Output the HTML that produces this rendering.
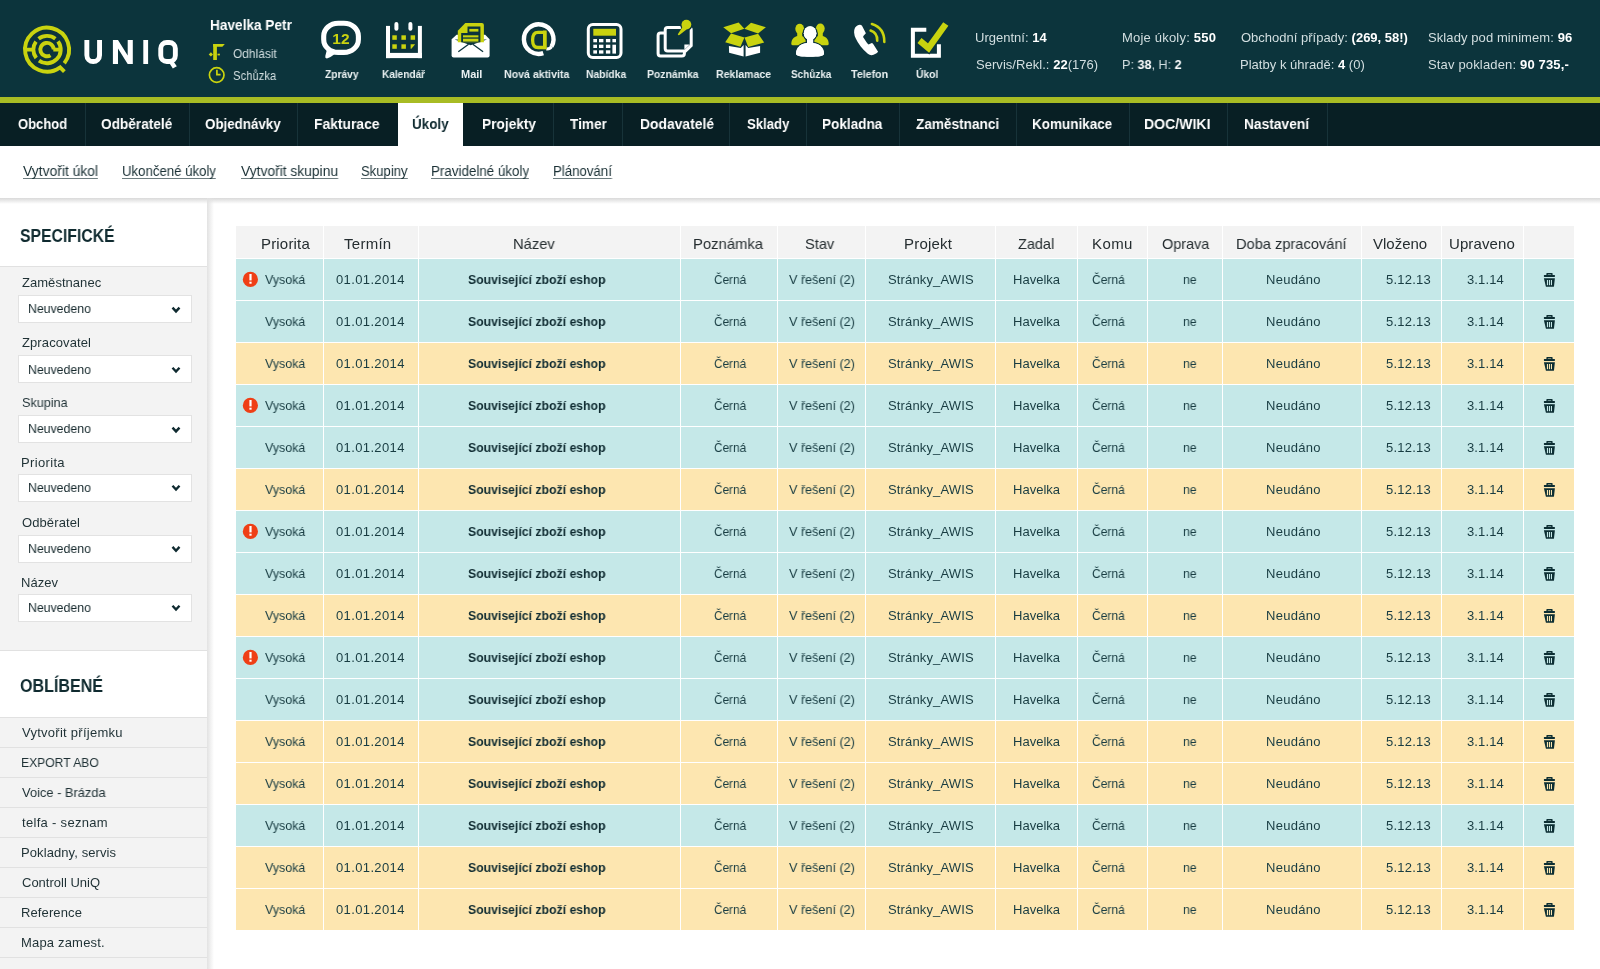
<!DOCTYPE html>
<html><head><meta charset="utf-8"><style>
*{box-sizing:border-box}
html,body{margin:0;padding:0}
body{width:1600px;height:969px;overflow:hidden;position:relative;background:#fff;font-family:"Liberation Sans",sans-serif}
.a{position:absolute}
.t{position:absolute;white-space:nowrap;line-height:1;will-change:transform}
#hdr{left:0;top:0;width:1600px;height:97px;background:#0c343c}
#lime{left:0;top:97px;width:1600px;height:6px;background:#a8bc24}
#nav{left:0;top:103px;width:1600px;height:43px;background:#081f24}
.sep{position:absolute;top:103px;width:1px;height:43px;background:#173339}
#act{left:398px;top:103px;width:65px;height:43px;background:#fff}
#sub{left:0;top:146px;width:1600px;height:52px;background:#fff}
#shadow{left:0;top:198px;width:1600px;height:6px;background:linear-gradient(#d9d9d9,rgba(255,255,255,0))}
#side{left:0;top:198px;width:207px;height:771px;background:#fff}
#sideshadow{left:207px;top:198px;width:7px;height:771px;background:linear-gradient(90deg,#e2e2e2,rgba(255,255,255,0))}
.gray{position:absolute;left:0;width:207px;background:#f3f3f3}
.hl{position:absolute;left:0;width:207px;height:1px;background:#e1e1e1}
.sel{position:absolute;left:18px;width:174px;height:28px;background:#fff;border:1px solid #e2e2e2}
.nt{color:#fff;font-weight:bold;font-size:15px}
.sn{color:#1a3035;font-size:14px;text-decoration:underline;text-decoration-color:#6d7c7f;text-underline-offset:2px;text-decoration-skip-ink:none}
.lab{color:#1f3135;font-size:13px}
.neu{color:#15282c;font-size:13px}
.fav{color:#1f3135;font-size:13px}
.tl{color:#eaf1f2;font-weight:bold;font-size:11px}
.st{color:#d3dfe1;font-size:13px}
.st b{color:#fff}
#tbl{left:236px;top:226px;width:1338px;height:704px}
.row{position:absolute;left:0;width:1338px;height:41px}
.cy{background:#c5e8e8}
.ye{background:#fde6b0}
.hd{position:absolute;left:0;top:0;width:1338px;height:32px;background:#f3f3f3}
.vl{position:absolute;top:0;width:1px;height:704px;background:#fff}
.th{color:#252d30;font-size:15px}
.td{color:#183c42;font-size:13px}
.tb{color:#0f2b31;font-size:13px;font-weight:bold}
</style></head><body>
<div id="hdr" class="a"></div>
<div id="lime" class="a"></div>
<div id="nav" class="a"></div>
<div id="act" class="a"></div>
<div id="sub" class="a"></div>
<div id="side" class="a"></div>
<div id="shadow" class="a"></div>
<div id="sideshadow" class="a"></div>
<div class="sep" style="left:85px"></div>
<div class="sep" style="left:189px"></div>
<div class="sep" style="left:297px"></div>
<div class="sep" style="left:553px"></div>
<div class="sep" style="left:622px"></div>
<div class="sep" style="left:729px"></div>
<div class="sep" style="left:806px"></div>
<div class="sep" style="left:899px"></div>
<div class="sep" style="left:1016px"></div>
<div class="sep" style="left:1129px"></div>
<div class="sep" style="left:1227px"></div>
<div class="sep" style="left:1327px"></div>

<div class="gray" style="top:266px;height:384px"></div>
<div class="hl" style="top:266px"></div>
<div class="hl" style="top:650px"></div>
<div class="gray" style="top:717px;height:252px"></div>
<div class="hl" style="top:717px"></div>
<div class="hl" style="top:747px"></div>
<div class="hl" style="top:777px"></div>
<div class="hl" style="top:807px"></div>
<div class="hl" style="top:837px"></div>
<div class="hl" style="top:867px"></div>
<div class="hl" style="top:897px"></div>
<div class="hl" style="top:927px"></div>
<div class="hl" style="top:957px"></div>
<div class="sel" style="top:295.3px"></div>
<div class="sel" style="top:355.4px"></div>
<div class="sel" style="top:415.3px"></div>
<div class="sel" style="top:473.5px"></div>
<div class="sel" style="top:534.6px"></div>
<div class="sel" style="top:593.5px"></div>
<svg class="a" style="left:0;top:0" width="207" height="969" viewBox="0 0 207 969"><path d="M172.5 307.6 L176 311.4 L179.5 307.6" fill="none" stroke="#0f2a30" stroke-width="2.4"></path>
<path d="M172.5 367.7 L176 371.5 L179.5 367.7" fill="none" stroke="#0f2a30" stroke-width="2.4"></path>
<path d="M172.5 427.6 L176 431.4 L179.5 427.6" fill="none" stroke="#0f2a30" stroke-width="2.4"></path>
<path d="M172.5 485.8 L176 489.6 L179.5 485.8" fill="none" stroke="#0f2a30" stroke-width="2.4"></path>
<path d="M172.5 546.9 L176 550.7 L179.5 546.9" fill="none" stroke="#0f2a30" stroke-width="2.4"></path>
<path d="M172.5 605.8 L176 609.6 L179.5 605.8" fill="none" stroke="#0f2a30" stroke-width="2.4"></path>
</svg>

<div id="tbl" class="a">
<div class="hd"></div>
<div class="row cy" style="top:33px"></div>
<div class="row cy" style="top:75px"></div>
<div class="row ye" style="top:117px"></div>
<div class="row cy" style="top:159px"></div>
<div class="row cy" style="top:201px"></div>
<div class="row ye" style="top:243px"></div>
<div class="row cy" style="top:285px"></div>
<div class="row cy" style="top:327px"></div>
<div class="row ye" style="top:369px"></div>
<div class="row cy" style="top:411px"></div>
<div class="row cy" style="top:453px"></div>
<div class="row ye" style="top:495px"></div>
<div class="row ye" style="top:537px"></div>
<div class="row cy" style="top:579px"></div>
<div class="row ye" style="top:621px"></div>
<div class="row ye" style="top:663px"></div>
<div class="vl" style="left:87px"></div>
<div class="vl" style="left:182px"></div>
<div class="vl" style="left:444px"></div>
<div class="vl" style="left:541px"></div>
<div class="vl" style="left:629px"></div>
<div class="vl" style="left:759px"></div>
<div class="vl" style="left:841px"></div>
<div class="vl" style="left:911px"></div>
<div class="vl" style="left:986px"></div>
<div class="vl" style="left:1125px"></div>
<div class="vl" style="left:1205px"></div>
<div class="vl" style="left:1287px"></div>
</div>
<svg class="a" style="left:0;top:0" width="1600" height="969" viewBox="0 0 1600 969"><circle cx="250.4" cy="279.4" r="7.6" fill="#ef3f16"></circle><rect x="249.4" y="274.0" width="2.2" height="6.4" fill="#fff"></rect><rect x="249.4" y="281.7" width="2.2" height="2" fill="#fff"></rect>
<g transform="translate(0,0)" fill="#0c2e33"><path d="M1546.4 276 V273.6 Q1546.4 273 1547 273 H1552 Q1552.6 273 1552.6 273.6 V276 H1551.2 V274.4 H1547.8 V276 Z"></path><rect x="1543.9" y="274.9" width="11" height="2" rx="0.4"></rect><path d="M1543.9 278.2 H1554.9 L1554 286.3 Q1553.9 286.8 1553.4 286.8 H1546.4 Q1545.9 286.8 1545.8 286.3 Z"></path><rect x="1546.9" y="280" width="1.1" height="5.2" fill="#c5e8e8"></rect><rect x="1548.9" y="280" width="1.1" height="5.2" fill="#c5e8e8"></rect><rect x="1550.9" y="280" width="1.1" height="5.2" fill="#c5e8e8"></rect></g>
<g transform="translate(0,42)" fill="#0c2e33"><path d="M1546.4 276 V273.6 Q1546.4 273 1547 273 H1552 Q1552.6 273 1552.6 273.6 V276 H1551.2 V274.4 H1547.8 V276 Z"></path><rect x="1543.9" y="274.9" width="11" height="2" rx="0.4"></rect><path d="M1543.9 278.2 H1554.9 L1554 286.3 Q1553.9 286.8 1553.4 286.8 H1546.4 Q1545.9 286.8 1545.8 286.3 Z"></path><rect x="1546.9" y="280" width="1.1" height="5.2" fill="#c5e8e8"></rect><rect x="1548.9" y="280" width="1.1" height="5.2" fill="#c5e8e8"></rect><rect x="1550.9" y="280" width="1.1" height="5.2" fill="#c5e8e8"></rect></g>
<g transform="translate(0,84)" fill="#0c2e33"><path d="M1546.4 276 V273.6 Q1546.4 273 1547 273 H1552 Q1552.6 273 1552.6 273.6 V276 H1551.2 V274.4 H1547.8 V276 Z"></path><rect x="1543.9" y="274.9" width="11" height="2" rx="0.4"></rect><path d="M1543.9 278.2 H1554.9 L1554 286.3 Q1553.9 286.8 1553.4 286.8 H1546.4 Q1545.9 286.8 1545.8 286.3 Z"></path><rect x="1546.9" y="280" width="1.1" height="5.2" fill="#fde6b0"></rect><rect x="1548.9" y="280" width="1.1" height="5.2" fill="#fde6b0"></rect><rect x="1550.9" y="280" width="1.1" height="5.2" fill="#fde6b0"></rect></g>
<circle cx="250.4" cy="405.4" r="7.6" fill="#ef3f16"></circle><rect x="249.4" y="400.0" width="2.2" height="6.4" fill="#fff"></rect><rect x="249.4" y="407.7" width="2.2" height="2" fill="#fff"></rect>
<g transform="translate(0,126)" fill="#0c2e33"><path d="M1546.4 276 V273.6 Q1546.4 273 1547 273 H1552 Q1552.6 273 1552.6 273.6 V276 H1551.2 V274.4 H1547.8 V276 Z"></path><rect x="1543.9" y="274.9" width="11" height="2" rx="0.4"></rect><path d="M1543.9 278.2 H1554.9 L1554 286.3 Q1553.9 286.8 1553.4 286.8 H1546.4 Q1545.9 286.8 1545.8 286.3 Z"></path><rect x="1546.9" y="280" width="1.1" height="5.2" fill="#c5e8e8"></rect><rect x="1548.9" y="280" width="1.1" height="5.2" fill="#c5e8e8"></rect><rect x="1550.9" y="280" width="1.1" height="5.2" fill="#c5e8e8"></rect></g>
<g transform="translate(0,168)" fill="#0c2e33"><path d="M1546.4 276 V273.6 Q1546.4 273 1547 273 H1552 Q1552.6 273 1552.6 273.6 V276 H1551.2 V274.4 H1547.8 V276 Z"></path><rect x="1543.9" y="274.9" width="11" height="2" rx="0.4"></rect><path d="M1543.9 278.2 H1554.9 L1554 286.3 Q1553.9 286.8 1553.4 286.8 H1546.4 Q1545.9 286.8 1545.8 286.3 Z"></path><rect x="1546.9" y="280" width="1.1" height="5.2" fill="#c5e8e8"></rect><rect x="1548.9" y="280" width="1.1" height="5.2" fill="#c5e8e8"></rect><rect x="1550.9" y="280" width="1.1" height="5.2" fill="#c5e8e8"></rect></g>
<g transform="translate(0,210)" fill="#0c2e33"><path d="M1546.4 276 V273.6 Q1546.4 273 1547 273 H1552 Q1552.6 273 1552.6 273.6 V276 H1551.2 V274.4 H1547.8 V276 Z"></path><rect x="1543.9" y="274.9" width="11" height="2" rx="0.4"></rect><path d="M1543.9 278.2 H1554.9 L1554 286.3 Q1553.9 286.8 1553.4 286.8 H1546.4 Q1545.9 286.8 1545.8 286.3 Z"></path><rect x="1546.9" y="280" width="1.1" height="5.2" fill="#fde6b0"></rect><rect x="1548.9" y="280" width="1.1" height="5.2" fill="#fde6b0"></rect><rect x="1550.9" y="280" width="1.1" height="5.2" fill="#fde6b0"></rect></g>
<circle cx="250.4" cy="531.4" r="7.6" fill="#ef3f16"></circle><rect x="249.4" y="526.0" width="2.2" height="6.4" fill="#fff"></rect><rect x="249.4" y="533.7" width="2.2" height="2" fill="#fff"></rect>
<g transform="translate(0,252)" fill="#0c2e33"><path d="M1546.4 276 V273.6 Q1546.4 273 1547 273 H1552 Q1552.6 273 1552.6 273.6 V276 H1551.2 V274.4 H1547.8 V276 Z"></path><rect x="1543.9" y="274.9" width="11" height="2" rx="0.4"></rect><path d="M1543.9 278.2 H1554.9 L1554 286.3 Q1553.9 286.8 1553.4 286.8 H1546.4 Q1545.9 286.8 1545.8 286.3 Z"></path><rect x="1546.9" y="280" width="1.1" height="5.2" fill="#c5e8e8"></rect><rect x="1548.9" y="280" width="1.1" height="5.2" fill="#c5e8e8"></rect><rect x="1550.9" y="280" width="1.1" height="5.2" fill="#c5e8e8"></rect></g>
<g transform="translate(0,294)" fill="#0c2e33"><path d="M1546.4 276 V273.6 Q1546.4 273 1547 273 H1552 Q1552.6 273 1552.6 273.6 V276 H1551.2 V274.4 H1547.8 V276 Z"></path><rect x="1543.9" y="274.9" width="11" height="2" rx="0.4"></rect><path d="M1543.9 278.2 H1554.9 L1554 286.3 Q1553.9 286.8 1553.4 286.8 H1546.4 Q1545.9 286.8 1545.8 286.3 Z"></path><rect x="1546.9" y="280" width="1.1" height="5.2" fill="#c5e8e8"></rect><rect x="1548.9" y="280" width="1.1" height="5.2" fill="#c5e8e8"></rect><rect x="1550.9" y="280" width="1.1" height="5.2" fill="#c5e8e8"></rect></g>
<g transform="translate(0,336)" fill="#0c2e33"><path d="M1546.4 276 V273.6 Q1546.4 273 1547 273 H1552 Q1552.6 273 1552.6 273.6 V276 H1551.2 V274.4 H1547.8 V276 Z"></path><rect x="1543.9" y="274.9" width="11" height="2" rx="0.4"></rect><path d="M1543.9 278.2 H1554.9 L1554 286.3 Q1553.9 286.8 1553.4 286.8 H1546.4 Q1545.9 286.8 1545.8 286.3 Z"></path><rect x="1546.9" y="280" width="1.1" height="5.2" fill="#fde6b0"></rect><rect x="1548.9" y="280" width="1.1" height="5.2" fill="#fde6b0"></rect><rect x="1550.9" y="280" width="1.1" height="5.2" fill="#fde6b0"></rect></g>
<circle cx="250.4" cy="657.4" r="7.6" fill="#ef3f16"></circle><rect x="249.4" y="652.0" width="2.2" height="6.4" fill="#fff"></rect><rect x="249.4" y="659.7" width="2.2" height="2" fill="#fff"></rect>
<g transform="translate(0,378)" fill="#0c2e33"><path d="M1546.4 276 V273.6 Q1546.4 273 1547 273 H1552 Q1552.6 273 1552.6 273.6 V276 H1551.2 V274.4 H1547.8 V276 Z"></path><rect x="1543.9" y="274.9" width="11" height="2" rx="0.4"></rect><path d="M1543.9 278.2 H1554.9 L1554 286.3 Q1553.9 286.8 1553.4 286.8 H1546.4 Q1545.9 286.8 1545.8 286.3 Z"></path><rect x="1546.9" y="280" width="1.1" height="5.2" fill="#c5e8e8"></rect><rect x="1548.9" y="280" width="1.1" height="5.2" fill="#c5e8e8"></rect><rect x="1550.9" y="280" width="1.1" height="5.2" fill="#c5e8e8"></rect></g>
<g transform="translate(0,420)" fill="#0c2e33"><path d="M1546.4 276 V273.6 Q1546.4 273 1547 273 H1552 Q1552.6 273 1552.6 273.6 V276 H1551.2 V274.4 H1547.8 V276 Z"></path><rect x="1543.9" y="274.9" width="11" height="2" rx="0.4"></rect><path d="M1543.9 278.2 H1554.9 L1554 286.3 Q1553.9 286.8 1553.4 286.8 H1546.4 Q1545.9 286.8 1545.8 286.3 Z"></path><rect x="1546.9" y="280" width="1.1" height="5.2" fill="#c5e8e8"></rect><rect x="1548.9" y="280" width="1.1" height="5.2" fill="#c5e8e8"></rect><rect x="1550.9" y="280" width="1.1" height="5.2" fill="#c5e8e8"></rect></g>
<g transform="translate(0,462)" fill="#0c2e33"><path d="M1546.4 276 V273.6 Q1546.4 273 1547 273 H1552 Q1552.6 273 1552.6 273.6 V276 H1551.2 V274.4 H1547.8 V276 Z"></path><rect x="1543.9" y="274.9" width="11" height="2" rx="0.4"></rect><path d="M1543.9 278.2 H1554.9 L1554 286.3 Q1553.9 286.8 1553.4 286.8 H1546.4 Q1545.9 286.8 1545.8 286.3 Z"></path><rect x="1546.9" y="280" width="1.1" height="5.2" fill="#fde6b0"></rect><rect x="1548.9" y="280" width="1.1" height="5.2" fill="#fde6b0"></rect><rect x="1550.9" y="280" width="1.1" height="5.2" fill="#fde6b0"></rect></g>
<g transform="translate(0,504)" fill="#0c2e33"><path d="M1546.4 276 V273.6 Q1546.4 273 1547 273 H1552 Q1552.6 273 1552.6 273.6 V276 H1551.2 V274.4 H1547.8 V276 Z"></path><rect x="1543.9" y="274.9" width="11" height="2" rx="0.4"></rect><path d="M1543.9 278.2 H1554.9 L1554 286.3 Q1553.9 286.8 1553.4 286.8 H1546.4 Q1545.9 286.8 1545.8 286.3 Z"></path><rect x="1546.9" y="280" width="1.1" height="5.2" fill="#fde6b0"></rect><rect x="1548.9" y="280" width="1.1" height="5.2" fill="#fde6b0"></rect><rect x="1550.9" y="280" width="1.1" height="5.2" fill="#fde6b0"></rect></g>
<g transform="translate(0,546)" fill="#0c2e33"><path d="M1546.4 276 V273.6 Q1546.4 273 1547 273 H1552 Q1552.6 273 1552.6 273.6 V276 H1551.2 V274.4 H1547.8 V276 Z"></path><rect x="1543.9" y="274.9" width="11" height="2" rx="0.4"></rect><path d="M1543.9 278.2 H1554.9 L1554 286.3 Q1553.9 286.8 1553.4 286.8 H1546.4 Q1545.9 286.8 1545.8 286.3 Z"></path><rect x="1546.9" y="280" width="1.1" height="5.2" fill="#c5e8e8"></rect><rect x="1548.9" y="280" width="1.1" height="5.2" fill="#c5e8e8"></rect><rect x="1550.9" y="280" width="1.1" height="5.2" fill="#c5e8e8"></rect></g>
<g transform="translate(0,588)" fill="#0c2e33"><path d="M1546.4 276 V273.6 Q1546.4 273 1547 273 H1552 Q1552.6 273 1552.6 273.6 V276 H1551.2 V274.4 H1547.8 V276 Z"></path><rect x="1543.9" y="274.9" width="11" height="2" rx="0.4"></rect><path d="M1543.9 278.2 H1554.9 L1554 286.3 Q1553.9 286.8 1553.4 286.8 H1546.4 Q1545.9 286.8 1545.8 286.3 Z"></path><rect x="1546.9" y="280" width="1.1" height="5.2" fill="#fde6b0"></rect><rect x="1548.9" y="280" width="1.1" height="5.2" fill="#fde6b0"></rect><rect x="1550.9" y="280" width="1.1" height="5.2" fill="#fde6b0"></rect></g>
<g transform="translate(0,630)" fill="#0c2e33"><path d="M1546.4 276 V273.6 Q1546.4 273 1547 273 H1552 Q1552.6 273 1552.6 273.6 V276 H1551.2 V274.4 H1547.8 V276 Z"></path><rect x="1543.9" y="274.9" width="11" height="2" rx="0.4"></rect><path d="M1543.9 278.2 H1554.9 L1554 286.3 Q1553.9 286.8 1553.4 286.8 H1546.4 Q1545.9 286.8 1545.8 286.3 Z"></path><rect x="1546.9" y="280" width="1.1" height="5.2" fill="#fde6b0"></rect><rect x="1548.9" y="280" width="1.1" height="5.2" fill="#fde6b0"></rect><rect x="1550.9" y="280" width="1.1" height="5.2" fill="#fde6b0"></rect></g>
</svg>

<svg class="a" style="left:0;top:0;will-change:transform" width="1600" height="97" viewBox="0 0 1600 97">
<path d="M59.71 67.58 A22 22 0 1 1 64.27 63.27" fill="none" stroke="#c9d30f" stroke-width="3.9"></path>
<path d="M58.9 66.1 L64.4 71.6" stroke="#c9d30f" stroke-width="3.9"></path>
<path d="M38.60 38.80 A13.7 13.7 0 0 1 55.37 38.73" fill="none" stroke="#c9d30f" stroke-width="3.9"></path>
<path d="M36.23 58.03 A13.7 13.7 0 0 1 35.95 41.55" fill="none" stroke="#c9d30f" stroke-width="3.9"></path>
<path d="M58.01 41.41 A13.7 13.7 0 0 1 38.98 60.68" fill="none" stroke="#c9d30f" stroke-width="3.9"></path>
<path d="M24.5 49.6 H33.8 M53.3 49.6 H61.2" stroke="#c9d30f" stroke-width="3.9"></path>
<path d="M50.48 55.34 A6.7 6.7 0 1 1 53.73 49.60" fill="none" stroke="#c9d30f" stroke-width="3.9"></path>
<path d="M86.85 40 V55.2 A6.35 6.35 0 0 0 99.55 55.2 V40" fill="none" stroke="#ffffff" stroke-width="4.9"></path>
<polygon points="112.9,64 112.9,40 118,40 127.7,55.5 127.7,40 132.8,40 132.8,64 127.7,64 118,48.5 118,64" fill="#ffffff"></polygon>
<rect x="143.3" y="40" width="4.8" height="24" fill="#ffffff"></rect>
<rect x="160.75" y="42.45" width="14.6" height="19.1" rx="6" fill="none" stroke="#ffffff" stroke-width="4.9"></rect>
<polygon points="169,62.5 173.5,61.5 176.8,66.3 172.8,68.6" fill="#ffffff"></polygon>
<rect x="213.2" y="44" width="3.7" height="16" fill="#c9d30f"></rect>
<polygon points="213.2,44 224.8,44 222.4,46.8 213.2,46.8" fill="#c9d30f"></polygon>
<polygon points="208.7,54.4 210.9,52.3 213,54.4 210.9,56.5" fill="#c9d30f"></polygon>
<rect x="217.5" y="53.7" width="2.4" height="1.7" fill="#c9d30f"></rect>
<circle cx="216.7" cy="75" r="7.3" fill="none" stroke="#c9d30f" stroke-width="1.7"></circle>
<path d="M216.9 69.8 V74.6 H220.6" fill="none" stroke="#c9d30f" stroke-width="1.7"></path>
<rect x="323.7" y="23.2" width="34.7" height="29.2" rx="14.5" ry="13" fill="none" stroke="#ffffff" stroke-width="5.1"></rect>
<path d="M327.2 48.5 L325.3 56 Q324.7 58.9 327.6 58.3 Q331 57 334.8 54 Z" fill="#ffffff"></path>
<text x="340.9" y="43.8" font-family="Liberation Sans" font-weight="bold" font-size="15.5" fill="#c9d30f" text-anchor="middle">12</text>
<rect x="386" y="25.9" width="4" height="32.2" fill="#ffffff"></rect><rect x="417.9" y="25.9" width="4" height="32.2" fill="#ffffff"></rect>
<rect x="386" y="52.9" width="35.9" height="5.2" fill="#ffffff"></rect>
<rect x="394.4" y="22.1" width="4" height="8.6" rx="2" fill="#ffffff"></rect><rect x="408.4" y="22.1" width="4" height="8.6" rx="2" fill="#ffffff"></rect>
<g fill="#c9d30f"><rect x="392.3" y="35.3" width="4.5" height="4.5"></rect><rect x="401.4" y="35.3" width="4.5" height="4.5"></rect><rect x="410.6" y="35.3" width="4.5" height="4.5"></rect>
<rect x="392.3" y="44.3" width="4.5" height="4.5"></rect><rect x="401.4" y="44.3" width="4.5" height="4.5"></rect><polygon points="410.6,44.3 415.1,44.3 411.4,48.8 410.6,48.8"></polygon></g>
<path d="M451.6 39.3 L456.6 34.8 H485.2 L489.6 39.3 V55.6 Q489.6 57.6 487.6 57.6 H453.6 Q451.6 57.6 451.6 55.6 Z" fill="#ffffff"></path>
<polygon points="454.6,39.4 487,39.4 470.7,45.3" fill="#0c343c"></polygon>
<path d="M457.8 30.7 L465.3 23 H481.9 Q483.9 23 483.9 25 V42.2 H457.8 Z" fill="#c9d30f"></path>
<path d="M467.5 26.4 H480.4 V42.2 H461.2 V33 H467.5 Z" fill="#0c343c"></path>
<g fill="#c9d30f"><rect x="469.3" y="28.9" width="9.1" height="2.7"></rect><rect x="463" y="35.3" width="15.4" height="2.1"></rect><rect x="463" y="38.7" width="15.4" height="2.9"></rect></g>
<path d="M458.3 51.8 L468.6 44.2 M472.8 44.2 L483.1 51.8" stroke="#0c343c" stroke-width="1.3"></path>
<path d="M543.27 53.18 A14.8 14.8 0 1 1 551.52 46.50" fill="none" stroke="#ffffff" stroke-width="4.4"></path>
<path d="M551.5 46.3 Q550.5 49.3 546.3 49" fill="none" stroke="#ffffff" stroke-width="3"></path>
<path d="M538 32.3 H544.7 V47.5 H538 C534.5 47.5 532.6 45 532.6 39.9 C532.6 34.8 534.5 32.3 538 32.3 Z" fill="none" stroke="#c9d30f" stroke-width="3.3"></path>
<rect x="543" y="30.6" width="3.6" height="18.5" fill="#c9d30f"></rect>
<rect x="588.3" y="24.6" width="32.7" height="32.8" rx="4.5" fill="none" stroke="#ffffff" stroke-width="3"></rect>
<rect x="593.3" y="28.8" width="22.7" height="6.9" fill="#c9d30f"></rect>
<g fill="#ffffff"><rect x="593.3" y="39" width="3.7" height="3.3"></rect><rect x="599" y="39" width="4.4" height="3.3"></rect><rect x="605.9" y="39" width="4.4" height="3.3"></rect><rect x="593.3" y="44.7" width="3.7" height="3.3"></rect><rect x="599" y="44.7" width="4.4" height="3.3"></rect><rect x="605.9" y="44.7" width="4.4" height="3.3"></rect><rect x="593.3" y="50.3" width="3.7" height="3.3"></rect><rect x="599" y="50.3" width="4.4" height="3.3"></rect><rect x="605.9" y="50.3" width="4.4" height="3.3"></rect><rect x="612.4" y="39" width="3.6" height="3.3"></rect><rect x="612.4" y="44.7" width="3.6" height="8.9"></rect></g>
<rect x="658.1" y="33.1" width="26.3" height="23" rx="2.5" fill="none" stroke="#ffffff" stroke-width="3"></rect>
<path d="M665.2 30.1 Q665.2 27.6 667.7 27.6 H688.7 Q691.2 27.6 691.2 30.1 V45.6 L685.6 50.9 H667.7 Q665.2 50.9 665.2 48.4 Z" fill="#0c343c" stroke="#ffffff" stroke-width="3"></path>
<path d="M684.8 28 L678.8 34.4" stroke="#0c343c" stroke-width="5"></path>
<circle cx="686.4" cy="24.6" r="6.3" fill="#0c343c"></circle>
<circle cx="686.4" cy="24.6" r="4.9" fill="#c9d30f"></circle>
<path d="M683 26.3 L686.5 29.4 L679.4 35.1 Q678.1 35.5 677.8 34.2 Z" fill="#c9d30f"></path>
<polygon points="684.4,44.4 689.9,44.4 684.4,49.8" fill="#ffffff"></polygon>
<g fill="#c9d30f"><polygon points="723.25,27.3 738.6,22.5 744.3,28.8 731.05,33.2"></polygon><polygon points="744.3,28.8 751,22.8 765.9,27.3 758.1,33.4"></polygon>
<polygon points="731.05,33.6 744.5,37.5 740.4,46.8 725.2,42.3"></polygon><polygon points="744.5,37.5 758.1,33.8 764.2,42.5 748.2,47"></polygon></g>
<g fill="#ffffff"><polygon points="728.9,45.9 740.8,48.1 743.6,45.1 743.6,56.6 729.1,52.7"></polygon><polygon points="745.6,45.1 748.2,48.1 760.1,45.9 760.1,52.7 745.6,56.6"></polygon></g>
<g fill="#c9d30f"><ellipse cx="799.7" cy="28.8" rx="4.4" ry="5.1"></ellipse><path d="M791.3 43.8 C791.3 38.5 795 35.8 799.7 35.8 C804 35.8 805.6 38.5 805.6 41 V45.3 H792.8 Q791.3 45.3 791.3 43.8 Z"></path>
<rect x="797.2" y="31" width="5" height="6"></rect><ellipse cx="820.3" cy="28.6" rx="4.4" ry="5.1"></ellipse><rect x="817.8" y="31" width="5" height="6"></rect><path d="M828.7 43.8 C828.7 38.5 825 35.8 820.3 35.8 C816 35.8 814.4 38.5 814.4 41 V45.3 H827.2 Q828.7 45.3 828.7 43.8 Z"></path></g>
<g fill="#ffffff" stroke="#0c343c" stroke-width="2.6" paint-order="stroke"><path d="M796 53.8 C796 46.5 802 42.7 810 42.7 C818 42.7 824 46.5 824 53.8 C824 56.2 818 56.8 810 56.8 C802 56.8 796 56.2 796 53.8 Z"></path>
<ellipse cx="810.1" cy="33.2" rx="6.3" ry="6.9"></ellipse></g>
<g fill="#ffffff"><path d="M796 53.8 C796 46.5 802 42.7 810 42.7 C818 42.7 824 46.5 824 53.8 C824 56.2 818 56.8 810 56.8 C802 56.8 796 56.2 796 53.8 Z"></path><rect x="807" y="37" width="6.2" height="7"></rect><ellipse cx="810.1" cy="33.2" rx="6.3" ry="6.9"></ellipse></g>
<path d="M859.9 24.7 Q861.2 24.9 862 25.8 L865.9 33.2 L863.6 35.7 Q863 36.6 863.2 37.3 L866.5 42.3 Q867.4 43.8 868.6 44.6 Q870 44 871.9 43.1 Q872.9 43.5 873.5 44.4 L878.1 51.8 Q877 53.2 875.6 53.8 Q873.5 55.1 871.5 55.3 Q869.5 55.2 867.8 53.8 Q864 50.5 860.7 46.4 Q857.5 42.5 855.8 38.6 Q854.3 35.5 854.1 32.4 Q854 29.9 855 27.8 Q856 26.2 857.4 25.4 Q858.6 24.7 859.9 24.7 Z" fill="#ffffff"></path>
<path d="M870.6 30.6 Q877.6 33 877.2 40.6 M871.9 24 Q884.6 28 884.3 41.9" fill="none" stroke="#c9d30f" stroke-width="2.6" stroke-linecap="round"></path>
<path d="M926.3 29.75 H912.9 V55.8 H938.9 V44.25" fill="none" stroke="#ffffff" stroke-width="4"></path>
<polyline points="919.5,40.5 928.5,48 945.8,24" fill="none" stroke="#0c343c" stroke-width="9"></polyline>
<polyline points="919.5,40.5 928.5,48 945.8,24" fill="none" stroke="#c9d30f" stroke-width="6.4"></polyline>
</svg>

<span class="t " style="color: rgb(255, 255, 255); font-weight: bold; font-size: 14.5px; transform: scaleX(0.9404); transform-origin: 0px 0px; left: 209.5px; top: 18.2px;">Havelka Petr</span>
<span class="t st" style="transform: scaleX(0.9193); transform-origin: 0px 0px; left: 232.6px; top: 46.9px;">Odhlásit</span>
<span class="t st" style="transform: scaleX(0.8651); transform-origin: 0px 0px; left: 232.6px; top: 68.8px;">Schůzka</span>
<span class="t tl" style="transform: scaleX(0.9282); transform-origin: 0px 0px; left: 325px; top: 69px;">Zprávy</span>
<span class="t tl" style="transform: scaleX(0.9144); transform-origin: 0px 0px; left: 382px; top: 69px;">Kalendář</span>
<span class="t tl" style="transform: scaleX(0.9936); transform-origin: 0px 0px; left: 460.8px; top: 69px;">Mail</span>
<span class="t tl" style="transform: scaleX(0.963); transform-origin: 0px 0px; left: 503.5px; top: 69px;">Nová aktivita</span>
<span class="t tl" style="transform: scaleX(0.9388); transform-origin: 0px 0px; left: 586px; top: 69px;">Nabídka</span>
<span class="t tl" style="transform: scaleX(0.9477); transform-origin: 0px 0px; left: 646.9px; top: 69px;">Poznámka</span>
<span class="t tl" style="transform: scaleX(0.9587); transform-origin: 0px 0px; left: 716px; top: 69px;">Reklamace</span>
<span class="t tl" style="transform: scaleX(0.9031); transform-origin: 0px 0px; left: 790.8px; top: 69px;">Schůzka</span>
<span class="t tl" style="transform: scaleX(0.9721); transform-origin: 0px 0px; left: 850.5px; top: 69px;">Telefon</span>
<span class="t tl" style="transform: scaleX(0.9377); transform-origin: 0px 0px; left: 916px; top: 69px;">Úkol</span>
<span class="t st" style="letter-spacing: 0.01px; left: 974.6px; top: 31px;">Urgentní: <b>14</b></span>
<span class="t st" style="letter-spacing: 0.04px; left: 975.6px; top: 57.7px;">Servis/Rekl.: <b>22</b>(176)</span>
<span class="t st" style="letter-spacing: 0.2px; left: 1121.6px; top: 31px;">Moje úkoly: <b>550</b></span>
<span class="t st" style="transform: scaleX(0.9703); transform-origin: 0px 0px; left: 1121.63px; top: 57.7px;">P: <b>38</b>, H: <b>2</b></span>
<span class="t st" style="transform: scaleX(0.9994); transform-origin: 0px 0px; left: 1241.3px; top: 31px;">Obchodní případy: <b>(269, 58!)</b></span>
<span class="t st" style="letter-spacing: 0.02px; left: 1240.3px; top: 57.7px;">Platby k úhradě: <b>4</b> (0)</span>
<span class="t st" style="letter-spacing: 0.09px; left: 1428px; top: 31px;">Sklady pod minimem: <b>96</b></span>
<span class="t st" style="letter-spacing: 0.16px; left: 1428px; top: 57.7px;">Stav pokladen: <b>90 735,-</b></span>
<span class="t nt" style="transform: scaleX(0.8673); transform-origin: 0px 0px; left: 18px; top: 115.75px;">Obchod</span>
<span class="t nt" style="transform: scaleX(0.91); transform-origin: 0px 0px; left: 100.5px; top: 115.75px;">Odběratelé</span>
<span class="t nt" style="transform: scaleX(0.8898); transform-origin: 0px 0px; left: 205px; top: 115.75px;">Objednávky</span>
<span class="t nt" style="transform: scaleX(0.9241); transform-origin: 0px 0px; left: 313.58px; top: 115.75px;">Fakturace</span>
<span class="t nt" style="color: rgb(15, 42, 48); transform: scaleX(0.8975); transform-origin: 0px 0px; left: 412px; top: 115.75px;">Úkoly</span>
<span class="t nt" style="transform: scaleX(0.9133); transform-origin: 0px 0px; left: 481.59px; top: 115.75px;">Projekty</span>
<span class="t nt" style="transform: scaleX(0.9082); transform-origin: 0px 0px; left: 570px; top: 115.75px;">Timer</span>
<span class="t nt" style="transform: scaleX(0.9245); transform-origin: 0px 0px; left: 639.58px; top: 115.75px;">Dodavatelé</span>
<span class="t nt" style="transform: scaleX(0.8772); transform-origin: 0px 0px; left: 747px; top: 115.75px;">Sklady</span>
<span class="t nt" style="transform: scaleX(0.9044); transform-origin: 0px 0px; left: 822.1px; top: 115.75px;">Pokladna</span>
<span class="t nt" style="transform: scaleX(0.9068); transform-origin: 0px 0px; left: 916.25px; top: 115.75px;">Zaměstnanci</span>
<span class="t nt" style="transform: scaleX(0.8992); transform-origin: 0px 0px; left: 1032.1px; top: 115.75px;">Komunikace</span>
<span class="t nt" style="transform: scaleX(0.9374); transform-origin: 0px 0px; left: 1144.46px; top: 115.75px;">DOC/WIKI</span>
<span class="t nt" style="transform: scaleX(0.9179); transform-origin: 0px 0px; left: 1243.68px; top: 115.75px;">Nastavení</span>
<span class="t sn" style="transform: scaleX(0.9918); transform-origin: 0px 0px; left: 23.2px; top: 164px;">Vytvořit úkol</span>
<span class="t sn" style="transform: scaleX(0.9431); transform-origin: 0px 0px; left: 122.06px; top: 164px;">Ukončené úkoly</span>
<span class="t sn" style="transform: scaleX(0.9875); transform-origin: 0px 0px; left: 240.5px; top: 164px;">Vytvořit skupinu</span>
<span class="t sn" style="transform: scaleX(0.9336); transform-origin: 0px 0px; left: 361.2px; top: 164px;">Skupiny</span>
<span class="t sn" style="transform: scaleX(0.9555); transform-origin: 0px 0px; left: 431.04px; top: 164px;">Pravidelné úkoly</span>
<span class="t sn" style="transform: scaleX(0.945); transform-origin: 0px 0px; left: 552.96px; top: 164px;">Plánování</span>
<span class="t " style="color: rgb(15, 42, 47); font-weight: bold; font-size: 18px; transform: scaleX(0.8758); transform-origin: 0px 0px; left: 19.5px; top: 227.2px;">SPECIFICKÉ</span>
<span class="t " style="color: rgb(15, 42, 47); font-weight: bold; font-size: 18px; transform: scaleX(0.8925); transform-origin: 0px 0px; left: 19.5px; top: 677.2px;">OBLÍBENÉ</span>
<span class="t lab" style="letter-spacing: 0.04px; left: 22px; top: 275.7px;">Zaměstnanec</span>
<span class="t neu" style="transform: scaleX(0.9469); transform-origin: 0px 0px; left: 27.55px; top: 302.4px;">Neuvedeno</span>
<span class="t lab" style="letter-spacing: 0.1px; left: 22px; top: 335.7px;">Zpracovatel</span>
<span class="t neu" style="transform: scaleX(0.9469); transform-origin: 0px 0px; left: 27.55px; top: 362.5px;">Neuvedeno</span>
<span class="t lab" style="transform: scaleX(0.9697); transform-origin: 0px 0px; left: 22px; top: 396px;">Skupina</span>
<span class="t neu" style="transform: scaleX(0.9469); transform-origin: 0px 0px; left: 27.55px; top: 422.4px;">Neuvedeno</span>
<span class="t lab" style="letter-spacing: 0.34px; left: 21px; top: 455.7px;">Priorita</span>
<span class="t neu" style="transform: scaleX(0.9469); transform-origin: 0px 0px; left: 27.55px; top: 480.6px;">Neuvedeno</span>
<span class="t lab" style="letter-spacing: 0.1px; left: 22px; top: 516px;">Odběratel</span>
<span class="t neu" style="transform: scaleX(0.9469); transform-origin: 0px 0px; left: 27.55px; top: 541.7px;">Neuvedeno</span>
<span class="t lab" style="letter-spacing: 0.06px; left: 21px; top: 575.7px;">Název</span>
<span class="t neu" style="transform: scaleX(0.9469); transform-origin: 0px 0px; left: 27.55px; top: 600.6px;">Neuvedeno</span>
<span class="t fav" style="letter-spacing: 0.26px; left: 22.3px; top: 726px;">Vytvořit příjemku</span>
<span class="t fav" style="transform: scaleX(0.933); transform-origin: 0px 0px; left: 21.37px; top: 756px;">EXPORT ABO</span>
<span class="t fav" style="transform: scaleX(0.9905); transform-origin: 0px 0px; left: 22.3px; top: 786px;">Voice - Brázda</span>
<span class="t fav" style="letter-spacing: 0.31px; left: 22.3px; top: 816px;">telfa - seznam</span>
<span class="t fav" style="letter-spacing: 0.09px; left: 21.3px; top: 846px;">Pokladny, servis</span>
<span class="t fav" style="transform: scaleX(0.996); transform-origin: 0px 0px; left: 22.3px; top: 876px;">Controll UniQ</span>
<span class="t fav" style="letter-spacing: 0.11px; left: 21.3px; top: 906px;">Reference</span>
<span class="t fav" style="letter-spacing: 0.18px; left: 21.3px; top: 936px;">Mapa zamest.</span>
<span class="t th" style="letter-spacing: 0.18px; left: 261.2px; top: 235.5px;">Priorita</span>
<span class="t th" style="letter-spacing: 0.27px; left: 344.4px; top: 235.5px;">Termín</span>
<span class="t th" style="transform: scaleX(0.9817); transform-origin: 0px 0px; left: 512.77px; top: 235.5px;">Název</span>
<span class="t th" style="transform: scaleX(0.989); transform-origin: 0px 0px; left: 693.01px; top: 235.5px;">Poznámka</span>
<span class="t th" style="transform: scaleX(0.9733); transform-origin: 0px 0px; left: 805px; top: 235.5px;">Stav</span>
<span class="t th" style="letter-spacing: 0.21px; left: 904px; top: 235.5px;">Projekt</span>
<span class="t th" style="transform: scaleX(0.9653); transform-origin: 0px 0px; left: 1017.5px; top: 235.5px;">Zadal</span>
<span class="t th" style="letter-spacing: 0.39px; left: 1092px; top: 235.5px;">Komu</span>
<span class="t th" style="transform: scaleX(0.9629); transform-origin: 0px 0px; left: 1161.6px; top: 235.5px;">Oprava</span>
<span class="t th" style="transform: scaleX(0.975); transform-origin: 0px 0px; left: 1236.23px; top: 235.5px;">Doba zpracování</span>
<span class="t th" style="transform: scaleX(0.9988); transform-origin: 0px 0px; left: 1372.9px; top: 235.5px;">Vloženo</span>
<span class="t th" style="letter-spacing: 0.1px; left: 1449px; top: 235.5px;">Upraveno</span>
<span class="t td" style="transform: scaleX(0.953); transform-origin: 0px 0px; left: 264.6px; top: 272.5px;">Vysoká</span>
<span class="t td" style="letter-spacing: 0.37px; left: 335.6px; top: 272.5px;">01.01.2014</span>
<span class="t tb" style="transform: scaleX(0.9426); transform-origin: 0px 0px; left: 468.4px; top: 272.5px;">Související zboží eshop</span>
<span class="t td" style="transform: scaleX(0.9066); transform-origin: 0px 0px; left: 714.4px; top: 272.5px;">Černá</span>
<span class="t td" style="transform: scaleX(0.9714); transform-origin: 0px 0px; left: 788.75px; top: 272.5px;">V řešení (2)</span>
<span class="t td" style="letter-spacing: 0.14px; left: 887.8px; top: 272.5px;">Stránky_AWIS</span>
<span class="t td" style="letter-spacing: 0.02px; left: 1013.4px; top: 272.5px;">Havelka</span>
<span class="t td" style="transform: scaleX(0.9232); transform-origin: 0px 0px; left: 1091.9px; top: 272.5px;">Černá</span>
<span class="t td" style="transform: scaleX(0.9417); transform-origin: 0px 0px; left: 1182.6px; top: 272.5px;">ne</span>
<span class="t td" style="letter-spacing: 0.28px; left: 1265.5px; top: 272.5px;">Neudáno</span>
<span class="t td" style="letter-spacing: 0.24px; left: 1385.8px; top: 272.5px;">5.12.13</span>
<span class="t td" style="letter-spacing: 0.12px; left: 1467.2px; top: 272.5px;">3.1.14</span>
<span class="t td" style="transform: scaleX(0.953); transform-origin: 0px 0px; left: 264.6px; top: 314.5px;">Vysoká</span>
<span class="t td" style="letter-spacing: 0.37px; left: 335.6px; top: 314.5px;">01.01.2014</span>
<span class="t tb" style="transform: scaleX(0.9426); transform-origin: 0px 0px; left: 468.4px; top: 314.5px;">Související zboží eshop</span>
<span class="t td" style="transform: scaleX(0.9066); transform-origin: 0px 0px; left: 714.4px; top: 314.5px;">Černá</span>
<span class="t td" style="transform: scaleX(0.9714); transform-origin: 0px 0px; left: 788.75px; top: 314.5px;">V řešení (2)</span>
<span class="t td" style="letter-spacing: 0.14px; left: 887.8px; top: 314.5px;">Stránky_AWIS</span>
<span class="t td" style="letter-spacing: 0.02px; left: 1013.4px; top: 314.5px;">Havelka</span>
<span class="t td" style="transform: scaleX(0.9232); transform-origin: 0px 0px; left: 1091.9px; top: 314.5px;">Černá</span>
<span class="t td" style="transform: scaleX(0.9417); transform-origin: 0px 0px; left: 1182.6px; top: 314.5px;">ne</span>
<span class="t td" style="letter-spacing: 0.28px; left: 1265.5px; top: 314.5px;">Neudáno</span>
<span class="t td" style="letter-spacing: 0.24px; left: 1385.8px; top: 314.5px;">5.12.13</span>
<span class="t td" style="letter-spacing: 0.12px; left: 1467.2px; top: 314.5px;">3.1.14</span>
<span class="t td" style="transform: scaleX(0.953); transform-origin: 0px 0px; left: 264.6px; top: 356.5px;">Vysoká</span>
<span class="t td" style="letter-spacing: 0.37px; left: 335.6px; top: 356.5px;">01.01.2014</span>
<span class="t tb" style="transform: scaleX(0.9426); transform-origin: 0px 0px; left: 468.4px; top: 356.5px;">Související zboží eshop</span>
<span class="t td" style="transform: scaleX(0.9066); transform-origin: 0px 0px; left: 714.4px; top: 356.5px;">Černá</span>
<span class="t td" style="transform: scaleX(0.9714); transform-origin: 0px 0px; left: 788.75px; top: 356.5px;">V řešení (2)</span>
<span class="t td" style="letter-spacing: 0.14px; left: 887.8px; top: 356.5px;">Stránky_AWIS</span>
<span class="t td" style="letter-spacing: 0.02px; left: 1013.4px; top: 356.5px;">Havelka</span>
<span class="t td" style="transform: scaleX(0.9232); transform-origin: 0px 0px; left: 1091.9px; top: 356.5px;">Černá</span>
<span class="t td" style="transform: scaleX(0.9417); transform-origin: 0px 0px; left: 1182.6px; top: 356.5px;">ne</span>
<span class="t td" style="letter-spacing: 0.28px; left: 1265.5px; top: 356.5px;">Neudáno</span>
<span class="t td" style="letter-spacing: 0.24px; left: 1385.8px; top: 356.5px;">5.12.13</span>
<span class="t td" style="letter-spacing: 0.12px; left: 1467.2px; top: 356.5px;">3.1.14</span>
<span class="t td" style="transform: scaleX(0.953); transform-origin: 0px 0px; left: 264.6px; top: 398.5px;">Vysoká</span>
<span class="t td" style="letter-spacing: 0.37px; left: 335.6px; top: 398.5px;">01.01.2014</span>
<span class="t tb" style="transform: scaleX(0.9426); transform-origin: 0px 0px; left: 468.4px; top: 398.5px;">Související zboží eshop</span>
<span class="t td" style="transform: scaleX(0.9066); transform-origin: 0px 0px; left: 714.4px; top: 398.5px;">Černá</span>
<span class="t td" style="transform: scaleX(0.9714); transform-origin: 0px 0px; left: 788.75px; top: 398.5px;">V řešení (2)</span>
<span class="t td" style="letter-spacing: 0.14px; left: 887.8px; top: 398.5px;">Stránky_AWIS</span>
<span class="t td" style="letter-spacing: 0.02px; left: 1013.4px; top: 398.5px;">Havelka</span>
<span class="t td" style="transform: scaleX(0.9232); transform-origin: 0px 0px; left: 1091.9px; top: 398.5px;">Černá</span>
<span class="t td" style="transform: scaleX(0.9417); transform-origin: 0px 0px; left: 1182.6px; top: 398.5px;">ne</span>
<span class="t td" style="letter-spacing: 0.28px; left: 1265.5px; top: 398.5px;">Neudáno</span>
<span class="t td" style="letter-spacing: 0.24px; left: 1385.8px; top: 398.5px;">5.12.13</span>
<span class="t td" style="letter-spacing: 0.12px; left: 1467.2px; top: 398.5px;">3.1.14</span>
<span class="t td" style="transform: scaleX(0.953); transform-origin: 0px 0px; left: 264.6px; top: 440.5px;">Vysoká</span>
<span class="t td" style="letter-spacing: 0.37px; left: 335.6px; top: 440.5px;">01.01.2014</span>
<span class="t tb" style="transform: scaleX(0.9426); transform-origin: 0px 0px; left: 468.4px; top: 440.5px;">Související zboží eshop</span>
<span class="t td" style="transform: scaleX(0.9066); transform-origin: 0px 0px; left: 714.4px; top: 440.5px;">Černá</span>
<span class="t td" style="transform: scaleX(0.9714); transform-origin: 0px 0px; left: 788.75px; top: 440.5px;">V řešení (2)</span>
<span class="t td" style="letter-spacing: 0.14px; left: 887.8px; top: 440.5px;">Stránky_AWIS</span>
<span class="t td" style="letter-spacing: 0.02px; left: 1013.4px; top: 440.5px;">Havelka</span>
<span class="t td" style="transform: scaleX(0.9232); transform-origin: 0px 0px; left: 1091.9px; top: 440.5px;">Černá</span>
<span class="t td" style="transform: scaleX(0.9417); transform-origin: 0px 0px; left: 1182.6px; top: 440.5px;">ne</span>
<span class="t td" style="letter-spacing: 0.28px; left: 1265.5px; top: 440.5px;">Neudáno</span>
<span class="t td" style="letter-spacing: 0.24px; left: 1385.8px; top: 440.5px;">5.12.13</span>
<span class="t td" style="letter-spacing: 0.12px; left: 1467.2px; top: 440.5px;">3.1.14</span>
<span class="t td" style="transform: scaleX(0.953); transform-origin: 0px 0px; left: 264.6px; top: 482.5px;">Vysoká</span>
<span class="t td" style="letter-spacing: 0.37px; left: 335.6px; top: 482.5px;">01.01.2014</span>
<span class="t tb" style="transform: scaleX(0.9426); transform-origin: 0px 0px; left: 468.4px; top: 482.5px;">Související zboží eshop</span>
<span class="t td" style="transform: scaleX(0.9066); transform-origin: 0px 0px; left: 714.4px; top: 482.5px;">Černá</span>
<span class="t td" style="transform: scaleX(0.9714); transform-origin: 0px 0px; left: 788.75px; top: 482.5px;">V řešení (2)</span>
<span class="t td" style="letter-spacing: 0.14px; left: 887.8px; top: 482.5px;">Stránky_AWIS</span>
<span class="t td" style="letter-spacing: 0.02px; left: 1013.4px; top: 482.5px;">Havelka</span>
<span class="t td" style="transform: scaleX(0.9232); transform-origin: 0px 0px; left: 1091.9px; top: 482.5px;">Černá</span>
<span class="t td" style="transform: scaleX(0.9417); transform-origin: 0px 0px; left: 1182.6px; top: 482.5px;">ne</span>
<span class="t td" style="letter-spacing: 0.28px; left: 1265.5px; top: 482.5px;">Neudáno</span>
<span class="t td" style="letter-spacing: 0.24px; left: 1385.8px; top: 482.5px;">5.12.13</span>
<span class="t td" style="letter-spacing: 0.12px; left: 1467.2px; top: 482.5px;">3.1.14</span>
<span class="t td" style="transform: scaleX(0.953); transform-origin: 0px 0px; left: 264.6px; top: 524.5px;">Vysoká</span>
<span class="t td" style="letter-spacing: 0.37px; left: 335.6px; top: 524.5px;">01.01.2014</span>
<span class="t tb" style="transform: scaleX(0.9426); transform-origin: 0px 0px; left: 468.4px; top: 524.5px;">Související zboží eshop</span>
<span class="t td" style="transform: scaleX(0.9066); transform-origin: 0px 0px; left: 714.4px; top: 524.5px;">Černá</span>
<span class="t td" style="transform: scaleX(0.9714); transform-origin: 0px 0px; left: 788.75px; top: 524.5px;">V řešení (2)</span>
<span class="t td" style="letter-spacing: 0.14px; left: 887.8px; top: 524.5px;">Stránky_AWIS</span>
<span class="t td" style="letter-spacing: 0.02px; left: 1013.4px; top: 524.5px;">Havelka</span>
<span class="t td" style="transform: scaleX(0.9232); transform-origin: 0px 0px; left: 1091.9px; top: 524.5px;">Černá</span>
<span class="t td" style="transform: scaleX(0.9417); transform-origin: 0px 0px; left: 1182.6px; top: 524.5px;">ne</span>
<span class="t td" style="letter-spacing: 0.28px; left: 1265.5px; top: 524.5px;">Neudáno</span>
<span class="t td" style="letter-spacing: 0.24px; left: 1385.8px; top: 524.5px;">5.12.13</span>
<span class="t td" style="letter-spacing: 0.12px; left: 1467.2px; top: 524.5px;">3.1.14</span>
<span class="t td" style="transform: scaleX(0.953); transform-origin: 0px 0px; left: 264.6px; top: 566.5px;">Vysoká</span>
<span class="t td" style="letter-spacing: 0.37px; left: 335.6px; top: 566.5px;">01.01.2014</span>
<span class="t tb" style="transform: scaleX(0.9426); transform-origin: 0px 0px; left: 468.4px; top: 566.5px;">Související zboží eshop</span>
<span class="t td" style="transform: scaleX(0.9066); transform-origin: 0px 0px; left: 714.4px; top: 566.5px;">Černá</span>
<span class="t td" style="transform: scaleX(0.9714); transform-origin: 0px 0px; left: 788.75px; top: 566.5px;">V řešení (2)</span>
<span class="t td" style="letter-spacing: 0.14px; left: 887.8px; top: 566.5px;">Stránky_AWIS</span>
<span class="t td" style="letter-spacing: 0.02px; left: 1013.4px; top: 566.5px;">Havelka</span>
<span class="t td" style="transform: scaleX(0.9232); transform-origin: 0px 0px; left: 1091.9px; top: 566.5px;">Černá</span>
<span class="t td" style="transform: scaleX(0.9417); transform-origin: 0px 0px; left: 1182.6px; top: 566.5px;">ne</span>
<span class="t td" style="letter-spacing: 0.28px; left: 1265.5px; top: 566.5px;">Neudáno</span>
<span class="t td" style="letter-spacing: 0.24px; left: 1385.8px; top: 566.5px;">5.12.13</span>
<span class="t td" style="letter-spacing: 0.12px; left: 1467.2px; top: 566.5px;">3.1.14</span>
<span class="t td" style="transform: scaleX(0.953); transform-origin: 0px 0px; left: 264.6px; top: 608.5px;">Vysoká</span>
<span class="t td" style="letter-spacing: 0.37px; left: 335.6px; top: 608.5px;">01.01.2014</span>
<span class="t tb" style="transform: scaleX(0.9426); transform-origin: 0px 0px; left: 468.4px; top: 608.5px;">Související zboží eshop</span>
<span class="t td" style="transform: scaleX(0.9066); transform-origin: 0px 0px; left: 714.4px; top: 608.5px;">Černá</span>
<span class="t td" style="transform: scaleX(0.9714); transform-origin: 0px 0px; left: 788.75px; top: 608.5px;">V řešení (2)</span>
<span class="t td" style="letter-spacing: 0.14px; left: 887.8px; top: 608.5px;">Stránky_AWIS</span>
<span class="t td" style="letter-spacing: 0.02px; left: 1013.4px; top: 608.5px;">Havelka</span>
<span class="t td" style="transform: scaleX(0.9232); transform-origin: 0px 0px; left: 1091.9px; top: 608.5px;">Černá</span>
<span class="t td" style="transform: scaleX(0.9417); transform-origin: 0px 0px; left: 1182.6px; top: 608.5px;">ne</span>
<span class="t td" style="letter-spacing: 0.28px; left: 1265.5px; top: 608.5px;">Neudáno</span>
<span class="t td" style="letter-spacing: 0.24px; left: 1385.8px; top: 608.5px;">5.12.13</span>
<span class="t td" style="letter-spacing: 0.12px; left: 1467.2px; top: 608.5px;">3.1.14</span>
<span class="t td" style="transform: scaleX(0.953); transform-origin: 0px 0px; left: 264.6px; top: 650.5px;">Vysoká</span>
<span class="t td" style="letter-spacing: 0.37px; left: 335.6px; top: 650.5px;">01.01.2014</span>
<span class="t tb" style="transform: scaleX(0.9426); transform-origin: 0px 0px; left: 468.4px; top: 650.5px;">Související zboží eshop</span>
<span class="t td" style="transform: scaleX(0.9066); transform-origin: 0px 0px; left: 714.4px; top: 650.5px;">Černá</span>
<span class="t td" style="transform: scaleX(0.9714); transform-origin: 0px 0px; left: 788.75px; top: 650.5px;">V řešení (2)</span>
<span class="t td" style="letter-spacing: 0.14px; left: 887.8px; top: 650.5px;">Stránky_AWIS</span>
<span class="t td" style="letter-spacing: 0.02px; left: 1013.4px; top: 650.5px;">Havelka</span>
<span class="t td" style="transform: scaleX(0.9232); transform-origin: 0px 0px; left: 1091.9px; top: 650.5px;">Černá</span>
<span class="t td" style="transform: scaleX(0.9417); transform-origin: 0px 0px; left: 1182.6px; top: 650.5px;">ne</span>
<span class="t td" style="letter-spacing: 0.28px; left: 1265.5px; top: 650.5px;">Neudáno</span>
<span class="t td" style="letter-spacing: 0.24px; left: 1385.8px; top: 650.5px;">5.12.13</span>
<span class="t td" style="letter-spacing: 0.12px; left: 1467.2px; top: 650.5px;">3.1.14</span>
<span class="t td" style="transform: scaleX(0.953); transform-origin: 0px 0px; left: 264.6px; top: 692.5px;">Vysoká</span>
<span class="t td" style="letter-spacing: 0.37px; left: 335.6px; top: 692.5px;">01.01.2014</span>
<span class="t tb" style="transform: scaleX(0.9426); transform-origin: 0px 0px; left: 468.4px; top: 692.5px;">Související zboží eshop</span>
<span class="t td" style="transform: scaleX(0.9066); transform-origin: 0px 0px; left: 714.4px; top: 692.5px;">Černá</span>
<span class="t td" style="transform: scaleX(0.9714); transform-origin: 0px 0px; left: 788.75px; top: 692.5px;">V řešení (2)</span>
<span class="t td" style="letter-spacing: 0.14px; left: 887.8px; top: 692.5px;">Stránky_AWIS</span>
<span class="t td" style="letter-spacing: 0.02px; left: 1013.4px; top: 692.5px;">Havelka</span>
<span class="t td" style="transform: scaleX(0.9232); transform-origin: 0px 0px; left: 1091.9px; top: 692.5px;">Černá</span>
<span class="t td" style="transform: scaleX(0.9417); transform-origin: 0px 0px; left: 1182.6px; top: 692.5px;">ne</span>
<span class="t td" style="letter-spacing: 0.28px; left: 1265.5px; top: 692.5px;">Neudáno</span>
<span class="t td" style="letter-spacing: 0.24px; left: 1385.8px; top: 692.5px;">5.12.13</span>
<span class="t td" style="letter-spacing: 0.12px; left: 1467.2px; top: 692.5px;">3.1.14</span>
<span class="t td" style="transform: scaleX(0.953); transform-origin: 0px 0px; left: 264.6px; top: 734.5px;">Vysoká</span>
<span class="t td" style="letter-spacing: 0.37px; left: 335.6px; top: 734.5px;">01.01.2014</span>
<span class="t tb" style="transform: scaleX(0.9426); transform-origin: 0px 0px; left: 468.4px; top: 734.5px;">Související zboží eshop</span>
<span class="t td" style="transform: scaleX(0.9066); transform-origin: 0px 0px; left: 714.4px; top: 734.5px;">Černá</span>
<span class="t td" style="transform: scaleX(0.9714); transform-origin: 0px 0px; left: 788.75px; top: 734.5px;">V řešení (2)</span>
<span class="t td" style="letter-spacing: 0.14px; left: 887.8px; top: 734.5px;">Stránky_AWIS</span>
<span class="t td" style="letter-spacing: 0.02px; left: 1013.4px; top: 734.5px;">Havelka</span>
<span class="t td" style="transform: scaleX(0.9232); transform-origin: 0px 0px; left: 1091.9px; top: 734.5px;">Černá</span>
<span class="t td" style="transform: scaleX(0.9417); transform-origin: 0px 0px; left: 1182.6px; top: 734.5px;">ne</span>
<span class="t td" style="letter-spacing: 0.28px; left: 1265.5px; top: 734.5px;">Neudáno</span>
<span class="t td" style="letter-spacing: 0.24px; left: 1385.8px; top: 734.5px;">5.12.13</span>
<span class="t td" style="letter-spacing: 0.12px; left: 1467.2px; top: 734.5px;">3.1.14</span>
<span class="t td" style="transform: scaleX(0.953); transform-origin: 0px 0px; left: 264.6px; top: 776.5px;">Vysoká</span>
<span class="t td" style="letter-spacing: 0.37px; left: 335.6px; top: 776.5px;">01.01.2014</span>
<span class="t tb" style="transform: scaleX(0.9426); transform-origin: 0px 0px; left: 468.4px; top: 776.5px;">Související zboží eshop</span>
<span class="t td" style="transform: scaleX(0.9066); transform-origin: 0px 0px; left: 714.4px; top: 776.5px;">Černá</span>
<span class="t td" style="transform: scaleX(0.9714); transform-origin: 0px 0px; left: 788.75px; top: 776.5px;">V řešení (2)</span>
<span class="t td" style="letter-spacing: 0.14px; left: 887.8px; top: 776.5px;">Stránky_AWIS</span>
<span class="t td" style="letter-spacing: 0.02px; left: 1013.4px; top: 776.5px;">Havelka</span>
<span class="t td" style="transform: scaleX(0.9232); transform-origin: 0px 0px; left: 1091.9px; top: 776.5px;">Černá</span>
<span class="t td" style="transform: scaleX(0.9417); transform-origin: 0px 0px; left: 1182.6px; top: 776.5px;">ne</span>
<span class="t td" style="letter-spacing: 0.28px; left: 1265.5px; top: 776.5px;">Neudáno</span>
<span class="t td" style="letter-spacing: 0.24px; left: 1385.8px; top: 776.5px;">5.12.13</span>
<span class="t td" style="letter-spacing: 0.12px; left: 1467.2px; top: 776.5px;">3.1.14</span>
<span class="t td" style="transform: scaleX(0.953); transform-origin: 0px 0px; left: 264.6px; top: 818.5px;">Vysoká</span>
<span class="t td" style="letter-spacing: 0.37px; left: 335.6px; top: 818.5px;">01.01.2014</span>
<span class="t tb" style="transform: scaleX(0.9426); transform-origin: 0px 0px; left: 468.4px; top: 818.5px;">Související zboží eshop</span>
<span class="t td" style="transform: scaleX(0.9066); transform-origin: 0px 0px; left: 714.4px; top: 818.5px;">Černá</span>
<span class="t td" style="transform: scaleX(0.9714); transform-origin: 0px 0px; left: 788.75px; top: 818.5px;">V řešení (2)</span>
<span class="t td" style="letter-spacing: 0.14px; left: 887.8px; top: 818.5px;">Stránky_AWIS</span>
<span class="t td" style="letter-spacing: 0.02px; left: 1013.4px; top: 818.5px;">Havelka</span>
<span class="t td" style="transform: scaleX(0.9232); transform-origin: 0px 0px; left: 1091.9px; top: 818.5px;">Černá</span>
<span class="t td" style="transform: scaleX(0.9417); transform-origin: 0px 0px; left: 1182.6px; top: 818.5px;">ne</span>
<span class="t td" style="letter-spacing: 0.28px; left: 1265.5px; top: 818.5px;">Neudáno</span>
<span class="t td" style="letter-spacing: 0.24px; left: 1385.8px; top: 818.5px;">5.12.13</span>
<span class="t td" style="letter-spacing: 0.12px; left: 1467.2px; top: 818.5px;">3.1.14</span>
<span class="t td" style="transform: scaleX(0.953); transform-origin: 0px 0px; left: 264.6px; top: 860.5px;">Vysoká</span>
<span class="t td" style="letter-spacing: 0.37px; left: 335.6px; top: 860.5px;">01.01.2014</span>
<span class="t tb" style="transform: scaleX(0.9426); transform-origin: 0px 0px; left: 468.4px; top: 860.5px;">Související zboží eshop</span>
<span class="t td" style="transform: scaleX(0.9066); transform-origin: 0px 0px; left: 714.4px; top: 860.5px;">Černá</span>
<span class="t td" style="transform: scaleX(0.9714); transform-origin: 0px 0px; left: 788.75px; top: 860.5px;">V řešení (2)</span>
<span class="t td" style="letter-spacing: 0.14px; left: 887.8px; top: 860.5px;">Stránky_AWIS</span>
<span class="t td" style="letter-spacing: 0.02px; left: 1013.4px; top: 860.5px;">Havelka</span>
<span class="t td" style="transform: scaleX(0.9232); transform-origin: 0px 0px; left: 1091.9px; top: 860.5px;">Černá</span>
<span class="t td" style="transform: scaleX(0.9417); transform-origin: 0px 0px; left: 1182.6px; top: 860.5px;">ne</span>
<span class="t td" style="letter-spacing: 0.28px; left: 1265.5px; top: 860.5px;">Neudáno</span>
<span class="t td" style="letter-spacing: 0.24px; left: 1385.8px; top: 860.5px;">5.12.13</span>
<span class="t td" style="letter-spacing: 0.12px; left: 1467.2px; top: 860.5px;">3.1.14</span>
<span class="t td" style="transform: scaleX(0.953); transform-origin: 0px 0px; left: 264.6px; top: 902.5px;">Vysoká</span>
<span class="t td" style="letter-spacing: 0.37px; left: 335.6px; top: 902.5px;">01.01.2014</span>
<span class="t tb" style="transform: scaleX(0.9426); transform-origin: 0px 0px; left: 468.4px; top: 902.5px;">Související zboží eshop</span>
<span class="t td" style="transform: scaleX(0.9066); transform-origin: 0px 0px; left: 714.4px; top: 902.5px;">Černá</span>
<span class="t td" style="transform: scaleX(0.9714); transform-origin: 0px 0px; left: 788.75px; top: 902.5px;">V řešení (2)</span>
<span class="t td" style="letter-spacing: 0.14px; left: 887.8px; top: 902.5px;">Stránky_AWIS</span>
<span class="t td" style="letter-spacing: 0.02px; left: 1013.4px; top: 902.5px;">Havelka</span>
<span class="t td" style="transform: scaleX(0.9232); transform-origin: 0px 0px; left: 1091.9px; top: 902.5px;">Černá</span>
<span class="t td" style="transform: scaleX(0.9417); transform-origin: 0px 0px; left: 1182.6px; top: 902.5px;">ne</span>
<span class="t td" style="letter-spacing: 0.28px; left: 1265.5px; top: 902.5px;">Neudáno</span>
<span class="t td" style="letter-spacing: 0.24px; left: 1385.8px; top: 902.5px;">5.12.13</span>
<span class="t td" style="letter-spacing: 0.12px; left: 1467.2px; top: 902.5px;">3.1.14</span>



</body></html>
